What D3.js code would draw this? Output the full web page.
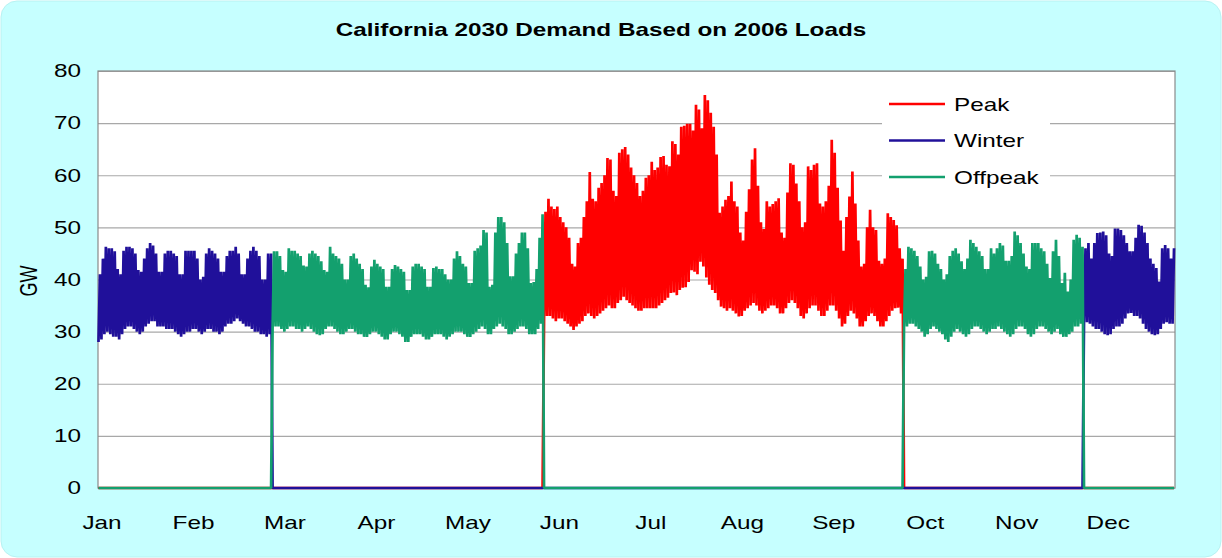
<!DOCTYPE html>
<html>
<head>
<meta charset="utf-8">
<script src="https://cdn.jsdelivr.net/npm/d3@7"></script>
<style>
  html, body { margin: 0; padding: 0; background: #ffffff; }
  svg { display: block; }
  text { font-family: "Liberation Sans", Arial, sans-serif; fill: #000; }
</style>
</head>
<body>
<svg id="chart" width="1222" height="558"></svg>
<script>
// ---------------- DATA ----------------
const months = ["Jan","Feb","Mar","Apr","May","Jun","Jul","Aug","Sep","Oct","Nov","Dec"];
const monthDays = [31,28,31,30,31,30,31,31,30,31,30,31];
const monthSeason = ["Winter","Winter","Offpeak","Offpeak","Offpeak","Peak","Peak","Peak","Peak","Offpeak","Offpeak","Winter"];
const seriesNames = ["Peak","Winter","Offpeak"];
const yTicks = [0,10,20,30,40,50,60,70,80];
const labelIntervalDays = 31;
const title = "California 2030 Demand Based on 2006 Loads";
const yTitle = "GW";

// daily peak (afternoon) demand, GW
const hiJan = [41,44,46.3,46,46,45.4,42,41,45.5,46.3,46.3,46,45,41.8,41.5,44,46,47,46.5,45,41.5,41.5,45,45.5,45.5,45,44.5,41,41,45.5,45.5];
const hiFeb = [45.5,45.5,44,40,40.5,45,46,45.5,45,44,41.5,41.5,44.5,45.5,45.5,46.3,45,41,41,44,45.5,46.3,45.5,44.5,40,40,45,45];
const hiMar = [45.4,45.4,44.5,41.8,41.5,46,45.5,45.5,45,44.5,42.7,42.5,45,45.5,45,44.5,43.5,41.8,41.5,46.3,45,44.5,44,43,40,40,44.5,45,44,43,42];
const hiApr = [39,38.5,42.5,43.8,43,42.5,42,38.6,38.6,42,42.8,42.5,42,41.5,38,38,42.5,43,43,42.5,42,38.6,38.6,42.2,42.5,42,42,41,40,40];
const hiMay = [44,45.4,44.5,43,42.5,39.3,39.3,45.5,46,46.5,49.5,49,38.6,39,49,52,52,51,47,40.6,40.6,45,47,49,49,46,39.3,39.5,42,48,52.5];
const hiJun = [53,55.5,54,53.5,54,52,51,50,48,43,42.5,47,48,52,55,60.6,55.5,55,57.6,58.5,60,63.3,63,57,56,64.3,65,65.4,64,61.5];
const hiJul = [60,58.5,56,57,59.5,60,62.6,61,61.5,63.5,63.7,62,61.7,66.5,66,64,69.3,69.5,69.9,69.9,68.6,73.5,72.6,69,75.4,74.4,72,69.3,64,52.8,54];
const hiAug = [55.3,56,58.8,55,54,49,47.5,53,57.3,63,65.2,58,51,49.7,55,54,54.5,55,55.6,49,48,56.7,62.3,62,58.4,55,50,51,61.7,61,62];
const hiSep = [62.3,54.6,54,55,58,66.8,64.3,57.6,51.3,45.5,52,55.9,60.7,54.6,47.5,42.5,43,50,53.4,50,49.5,43.6,43,44,52.7,52,51.4,50.4,46,44];
const hiOct = [42,46.3,46,45.5,44.5,42.5,40,40.5,45.4,45.5,45,43,42,40,41,44.5,45.5,46,45,43.5,42,44,47.6,47,46.3,45.4,44.5,42,42,46,45];
const hiNov = [46,47,46.5,43.6,43.6,44.5,49.2,48.5,47,45,42.5,42,47,47,47,46,45.4,43,40.3,45.4,47.6,44.5,39.3,41.3,37.7,40,47.6,48.6,48,46.3];
const hiDec = [46,47,44,47,48.9,49,49.2,48.5,45,44.5,49.8,49.8,49.5,48.5,47,45.4,45.4,48,50.5,50.3,49,47,44,43,42.2,39.6,46,46.6,46,44,46];

// daily minimum (night) demand, GW
const loJan = [28,28.5,29.5,30,29.5,29,29,28.5,29.5,30.5,31,31,30.5,30,29.5,30,31,31.5,32,32,31,31,31,30.5,30.5,30.5,30,29.5,29,29.5,30];
const loFeb = [30,30.5,30.5,30,29.5,30,30.5,30.5,30,30,29.5,30,31,31.5,31.5,32,32.5,32,31.5,31,31,30.5,30,30,29.5,29.5,29,29.5];
const loMar = [30.5,31,31,30.5,30,30.5,31,31,30.5,30.5,30,30.5,31,30.5,30,29.5,29.3,29.5,30.5,31,31,30.5,30,29.5,29.5,30,30.5,30.5,30,29.5,29.5];
const loApr = [29,29,29.5,30,30,29.5,29,28.5,28.5,29.5,30,30,29.5,29,28,28,29,29.5,29.5,29.5,29,28.5,28.5,29,29.5,29.5,29.5,29,28.5,29];
const loMay = [29.5,30,30,30,29.5,29,29,29.5,30,30.5,31,30.5,29.5,29.5,30.5,31,31.5,31,30.5,29.5,29.5,30,30.5,31,31,30.5,29.5,29.5,29.5,30.5,31.5];
const loJun = [32,33,33,32.5,32,32.5,32.5,32,31.5,31,30.3,31,31.5,32,33,33.5,33,32.5,33,33.5,34,34.5,35,34.5,34.5,35.5,36,36.7,36,35.5];
const loJul = [35,34.5,34,34,34.5,34.5,34.5,34.5,34.5,35,35.5,36,36.5,37.4,37.5,37,38,38.4,38.5,39.5,41.8,41.5,41,43.4,42.5,40.4,39,38,37.4,36,34.8];
const loAug = [34.5,34,34.5,34,33.5,32.9,33,34,34.5,35,35.5,35,34,33.5,34,34.5,35,35,34.5,33.5,33.5,34.5,35.5,36,35.5,34.5,33,32.5,33.5,34.5,35];
const loSep = [35,34,33,33,34,35,35,34,32.5,31,31.5,33,34,33.5,32.5,31,31,32,33,33.5,33,32,31,31,32,33,34,34.5,34.6,33.5];
const loOct = [31,31,31.5,31.5,31,30.5,30,29,29.5,30.5,31,30.5,30,29.5,28.5,28,29,30,30.5,30,29.5,29,29.5,30.5,31,31,30.5,30,29.5,30,30.5];
const loNov = [30.5,31,30.5,30,29.5,29,29.5,30.5,31,31,30.5,29.5,29,29.5,30.5,31,31,30.5,30,29.5,30,30.5,29.5,29,29,29.5,30,31,31,31.5];
const loDec = [32,31.8,31.5,31,30.5,30.5,30,29.5,29.3,29.5,30.5,31,31,31.5,32.5,33.5,33.6,33,33,32.5,31.5,30.5,30,29.5,29.3,29.5,30.5,31.5,31.8,31.5,31.5];

const highs = [hiJan,hiFeb,hiMar,hiApr,hiMay,hiJun,hiJul,hiAug,hiSep,hiOct,hiNov,hiDec];
const lows  = [loJan,loFeb,loMar,loApr,loMay,loJun,loJul,loAug,loSep,loOct,loNov,loDec];

// ---------------- STYLE ----------------
const colors = { Peak: "#ff0000", Winter: "#20109a", Offpeak: "#13a06e" };
const W = 1222, H = 558;
const plot = { left: 98, right: 1175, top: 71, bottom: 488 };
const sx = 1.35; // horizontal stretch of the reference's lettering
const fs = 18;

// ---------------- BUILD ----------------
const days = [];
let dayIndex = 0;
months.forEach((m, mi) => {
  for (let i = 0; i < monthDays[mi]; i++) {
    days.push({ day: dayIndex, season: monthSeason[mi], hi: highs[mi][i], lo: lows[mi][i] });
    dayIndex++;
  }
});
const totalDays = dayIndex;
const labelDays = months.map((m, i) => i * labelIntervalDays);

const svg = d3.select("#chart");

// background panel
svg.append("rect").attr("x", 1).attr("y", 1).attr("width", W - 2).attr("height", H - 2)
  .attr("rx", 16).attr("ry", 16).attr("fill", "#c6ffff").attr("stroke", "#b8f2f2");

const x = d3.scaleLinear().domain([0, totalDays]).range([plot.left, plot.right]);
const y = d3.scaleLinear().domain([0, 80]).range([plot.bottom, plot.top]);

// plot area
svg.append("rect").attr("x", plot.left).attr("y", plot.top)
  .attr("width", plot.right - plot.left).attr("height", plot.bottom - plot.top)
  .attr("fill", "#ffffff");

// gridlines
const grid = svg.append("g").attr("transform", `translate(${plot.left},0)`)
  .call(d3.axisLeft(y).tickValues(yTicks).tickSize(-(plot.right - plot.left)).tickFormat(""));
grid.select(".domain").remove();
grid.selectAll(".tick line").attr("stroke", "#a8a8a8").attr("stroke-width", 1.2);

// plot border
svg.append("rect").attr("x", plot.left).attr("y", plot.top)
  .attr("width", plot.right - plot.left).attr("height", plot.bottom - plot.top)
  .attr("fill", "none").attr("stroke", "#8a8a8a").attr("stroke-width", 1.2);

// series lines
const line = d3.line().x(d => x(d.t)).y(d => y(d.v));
seriesNames.forEach(s => {
  const pts = [];
  days.forEach(d => {
    const on = d.season === s;
    pts.push({ t: d.day + 4 / 24, v: on ? d.lo : 0 });
    pts.push({ t: d.day + 16 / 24, v: on ? d.hi : 0 });
  });
  svg.append("path").datum(pts).attr("d", line)
    .attr("fill", "none").attr("stroke", colors[s]).attr("stroke-width", 2.7)
    .attr("stroke-linejoin", "bevel");
});

// y axis labels
const yAxis = svg.append("g").attr("transform", `translate(${plot.left},0)`)
  .call(d3.axisLeft(y).tickValues(yTicks).tickSize(0).tickPadding(17 / sx));
yAxis.select(".domain").remove();
yAxis.selectAll("text").attr("font-size", fs).attr("font-family", "Liberation Sans, Arial, sans-serif")
  .attr("fill", "#000").attr("transform", `scale(${sx},1)`);

// x axis labels
const xAxis = svg.append("g").attr("transform", `translate(0,${plot.bottom})`)
  .call(d3.axisBottom(x).tickValues(labelDays).tickFormat((d, i) => months[i]).tickSize(0).tickPadding(28));
xAxis.select(".domain").remove();
xAxis.selectAll("text").attr("font-size", fs).attr("font-family", "Liberation Sans, Arial, sans-serif")
  .attr("fill", "#000").attr("x", 3.5 / sx).attr("transform", `scale(${sx},1)`);

// title
svg.append("text").attr("transform", `translate(601,36) scale(${sx},1)`)
  .attr("text-anchor", "middle").attr("font-size", fs).attr("font-weight", "bold").text(title);

// y title
svg.append("text").attr("transform", `translate(37,281) scale(${sx},1) rotate(-90)`)
  .attr("text-anchor", "middle").attr("font-size", fs).text(yTitle);

// legend
const lg = svg.append("g");
lg.append("rect").attr("x", 882).attr("y", 86).attr("width", 168).attr("height", 110).attr("fill", "#ffffff");
seriesNames.forEach((s, i) => {
  const ly = 104 + i * 36.5;
  lg.append("line").attr("x1", 889).attr("x2", 945).attr("y1", ly).attr("y2", ly)
    .attr("stroke", colors[s]).attr("stroke-width", 2.6);
  lg.append("text").attr("transform", `translate(954,${ly + 6.5}) scale(${sx},1)`)
    .attr("font-size", fs).text(s);
});
</script>
</body>
</html>
